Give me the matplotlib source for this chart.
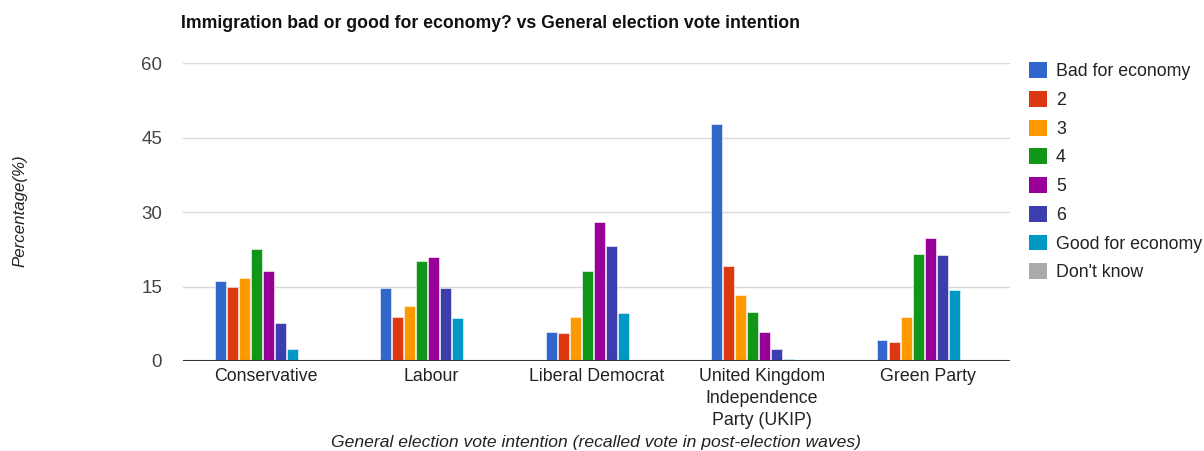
import numpy as np
import matplotlib
matplotlib.use('Agg')
import matplotlib.pyplot as plt
from matplotlib.patches import Patch

plt.rcParams['font.family'] = ['Liberation Sans', 'DejaVu Sans']

parties = ['Conservative', 'Labour', 'Liberal Democrat',
           'United Kingdom\nIndependence\nParty (UKIP)', 'Green Party']
series = ['Bad for economy', '2', '3', '4', '5', '6', 'Good for economy', "Don't know"]

bad = [16.2, 14.7, 5.9, 47.8, 4.2]
s2 = [15.0, 8.9, 5.6, 19.1, 3.9]
s3 = [16.7, 11.0, 8.9, 13.2, 8.9]
s4 = [22.5, 20.1, 18.2, 9.8, 21.6]
s5 = [18.2, 20.9, 28.0, 5.9, 24.7]
s6 = [7.6, 14.7, 23.1, 2.4, 21.3]
good = [2.4, 8.6, 9.6, 0.4, 14.3]
dont_know = [0, 0, 0, 0, 0]

colors = ['#3366cc', '#dc3912', '#ff9900', '#109618', '#990099',
          '#3b3eac', '#0099c6', '#aaaaaa']

values = [bad, s2, s3, s4, s5, s6, good, dont_know]

fig = plt.figure(figsize=(12.04, 4.51), dpi=100)
ax = fig.add_axes([0.152, 0.1996, 0.687, 0.6604])

x = np.arange(len(parties))
step = 0.0727
width = 0.066
n = len(series)
for i, (vals, c) in enumerate(zip(values, colors)):
    offs = (i - (n - 1) / 2) * step - 0.02
    ax.bar(x + offs, vals, width=width, color=c, edgecolor='white', linewidth=0.4,
           label=series[i], zorder=3)

ax.set_xlim(-0.5, len(parties) - 0.5)
ax.set_ylim(0, 60)
ax.set_yticks([0, 15, 30, 45, 60])
ax.grid(axis='y', color='#d9d9d9', linewidth=1, zorder=0)
ax.axhline(0, color='#333333', linewidth=1.5, zorder=4)
for s in ax.spines.values():
    s.set_visible(False)
ax.tick_params(axis='y', length=0, pad=15, labelsize=13.5, labelcolor='#444444')
ax.tick_params(axis='x', length=0, pad=5, labelsize=12.8, labelcolor='#222222')
ax.set_xticks(x)
ax.set_xticklabels(parties, linespacing=1.38, va='top')

fig.text(0.150, 0.947, 'Immigration bad or good for economy? vs General election vote intention',
         fontsize=12.7, fontweight='bold', color='#111111', ha='left', va='center')
fig.text(0.017, 0.532, 'Percentage(%)', rotation=90, fontsize=12.2, style='italic',
         color='#222222', ha='center', va='center')
fig.text(0.495, 0.019, 'General election vote intention (recalled vote in post-election waves)',
         fontsize=12.6, style='italic', color='#222222', ha='center', va='center')

handles = [Patch(facecolor=c, edgecolor='none') for c in colors]
fig.legend(handles, series, loc='upper left', bbox_to_anchor=(0.855, 0.862),
           frameon=False, fontsize=12.8, handlelength=1.0, handleheight=1.0,
           handletextpad=0.5, labelspacing=0.6, borderaxespad=0, borderpad=0,
           labelcolor='#222222')

fig.savefig('out.png', dpi=100)
